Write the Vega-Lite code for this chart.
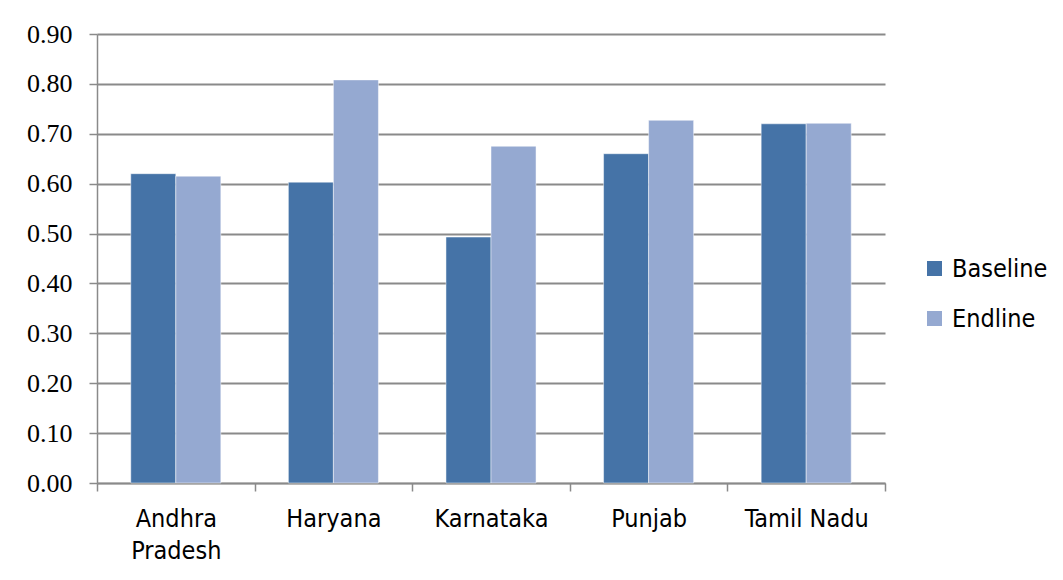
{
  "$schema": "https://vega.github.io/schema/vega-lite/v6.json",
  "width": 788,
  "height": 449,
  "autosize": "none",
  "padding": {"left": 97, "top": 34, "right": 178, "bottom": 97},
  "background": "white",
  "data": {
    "values": [
      {"state": "Andhra Pradesh", "series": "Baseline", "value": 0.62},
      {"state": "Andhra Pradesh", "series": "Endline", "value": 0.615},
      {"state": "Haryana", "series": "Baseline", "value": 0.603},
      {"state": "Haryana", "series": "Endline", "value": 0.808},
      {"state": "Karnataka", "series": "Baseline", "value": 0.493},
      {"state": "Karnataka", "series": "Endline", "value": 0.675},
      {"state": "Punjab", "series": "Baseline", "value": 0.66},
      {"state": "Punjab", "series": "Endline", "value": 0.727},
      {"state": "Tamil Nadu", "series": "Baseline", "value": 0.72},
      {"state": "Tamil Nadu", "series": "Endline", "value": 0.721}
    ]
  },
  "mark": {"type": "bar", "stroke": "white", "strokeWidth": 0.8, "strokeOpacity": 0.6},
  "encoding": {
    "x": {
      "field": "state",
      "type": "nominal",
      "sort": null,
      "scale": {"paddingInner": 0, "paddingOuter": 0},
      "axis": {
        "title": null,
        "labelAngle": 0,
        "labelFont": "DejaVu Sans Condensed, DejaVu Sans",
        "labelFontSize": 25,
        "labelColor": "black",
        "labelPadding": 15,
        "labelLineHeight": 32,
        "labelExpr": "datum.value == 'Andhra Pradesh' ? ['Andhra', 'Pradesh'] : datum.value",
        "tickBand": "extent",
        "tickSize": 8,
        "tickColor": "#8a8a8a",
        "tickWidth": 1.5,
        "domainColor": "#8a8a8a",
        "domainWidth": 1.5
      }
    },
    "xOffset": {"field": "series", "type": "nominal", "scale": {"paddingInner": 0, "paddingOuter": 0.75}},
    "y": {
      "field": "value",
      "type": "quantitative",
      "scale": {"domain": [0, 0.9], "nice": false},
      "axis": {
        "title": null,
        "values": [0, 0.1, 0.2, 0.3, 0.4, 0.5, 0.6, 0.7, 0.8, 0.9],
        "format": ".2f",
        "labelFont": "Liberation Serif",
        "labelFontSize": 26,
        "labelColor": "black",
        "labelPadding": 17,
        "tickSize": 8,
        "tickColor": "#8a8a8a",
        "tickWidth": 1.5,
        "domainColor": "#8a8a8a",
        "domainWidth": 1.5,
        "grid": true,
        "gridColor": "#8a8a8a",
        "gridWidth": 1.8
      }
    },
    "color": {
      "field": "series",
      "type": "nominal",
      "scale": {"domain": ["Baseline", "Endline"], "range": ["#4573a7", "#95a9d1"]},
      "legend": {
        "title": null,
        "orient": "none",
        "legendX": 825,
        "legendY": 222,
        "symbolType": "square",
        "symbolSize": 225,
        "symbolStrokeWidth": 0,
        "labelFont": "DejaVu Sans Condensed, DejaVu Sans",
        "labelFontSize": 25,
        "labelColor": "black",
        "labelOffset": 5,
        "rowPadding": 24
      }
    }
  },
  "config": {"view": {"stroke": null}}
}
